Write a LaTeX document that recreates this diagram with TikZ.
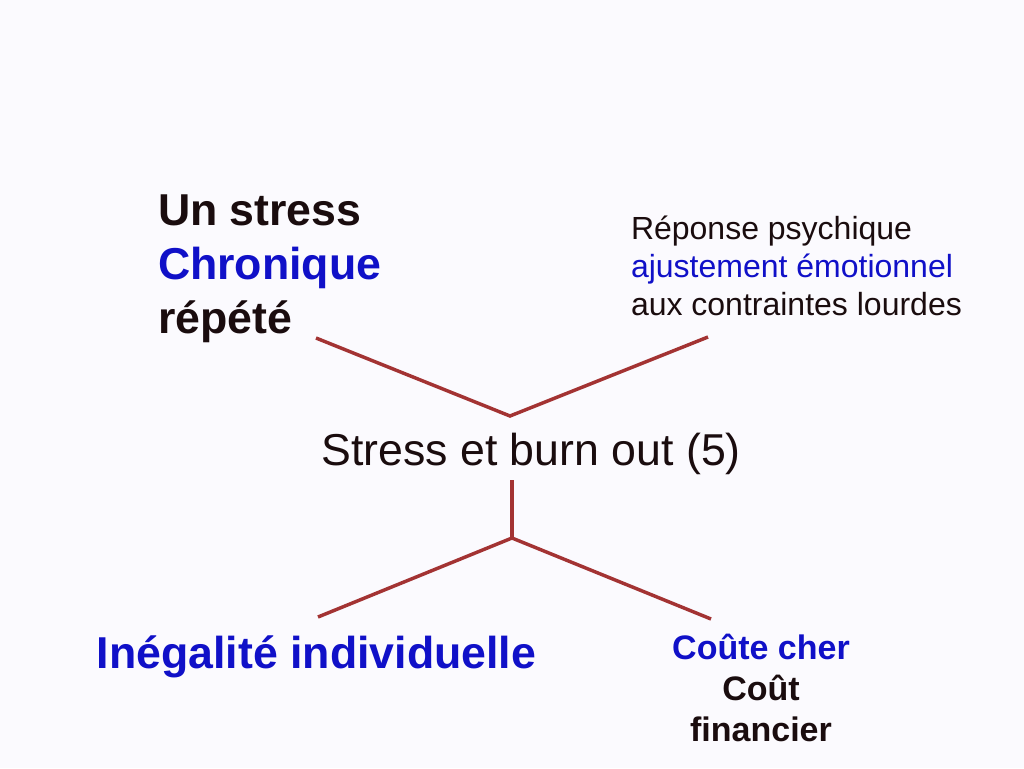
\documentclass[tikz,border=0pt]{standalone}
\usepackage{fontspec}
\setmainfont{Liberation Sans}
\definecolor{bg}{RGB}{251,250,254}
\definecolor{ink}{RGB}{26,12,14}
\definecolor{tblue}{RGB}{16,16,200}
\definecolor{lred}{RGB}{163,51,51}
\tikzset{
  link/.style={draw=lred, line width=2.6pt, line cap=butt, line join=miter},
  txt/.style={inner sep=0pt, outer sep=0pt, text=ink},
}
\begin{document}
\begin{tikzpicture}[x=0.75pt,y=-0.75pt]
\fill[bg] (0,0) rectangle (1024,768);
\useasboundingbox (0,0) rectangle (1024,768);

\node[txt, anchor=base west, align=left,
      font=\fontsize{33.5pt}{40.5pt}\selectfont\bfseries] (stress) at (158,333)
  {Un stress\\\textcolor{tblue}{Chronique}\\répété};

\node[txt, anchor=base west, align=left,
      font=\fontsize{24pt}{28.5pt}\selectfont] (reponse) at (631,315)
  {Réponse psychique\\\textcolor{tblue}{ajustement émotionnel}\\aux contraintes lourdes};

\node[txt, anchor=base, font=\fontsize{33.5pt}{40pt}\selectfont] (centre) at (531,465)
  {Stress et burn out (5)};

\node[txt, anchor=base, text=tblue, font=\fontsize{33.5pt}{40pt}\selectfont\bfseries] (inegal) at (316.5,668)
  {Inégalité individuelle};

\node[txt, anchor=base, align=center,
      font=\fontsize{25.5pt}{30.75pt}\selectfont\bfseries] (cout) at (761,741)
  {\textcolor{tblue}{Coûte cher}\\Coût\\financier};

\coordinate (a1) at (316,338);
\coordinate (j1) at (510,416);
\coordinate (a2) at (708,337);
\coordinate (v1) at (512,480);
\coordinate (j2) at (512,538);
\coordinate (b1) at (318,617);
\coordinate (b2) at (711,619);

\draw[link] (a1) -- (j1) -- (a2);
\draw[link] (v1) -- (j2);
\draw[link] (b1) -- (j2) -- (b2);
\end{tikzpicture}
\end{document}
